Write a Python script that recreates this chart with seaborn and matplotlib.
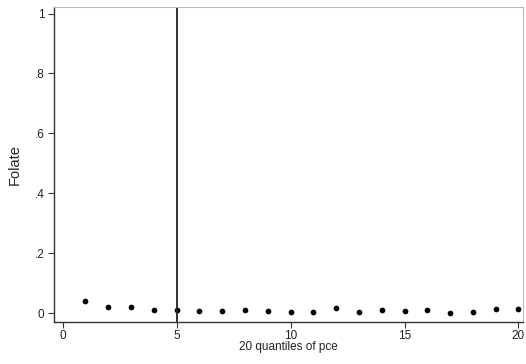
import matplotlib
matplotlib.use("Agg")
import matplotlib.pyplot as plt
import seaborn as sns
import pandas as pd

quantiles = list(range(1, 21))
folate = [0.039, 0.020, 0.020, 0.009, 0.011, 0.007, 0.007, 0.010, 0.008, 0.0045,
          0.0045, 0.018, 0.0045, 0.009, 0.006, 0.010, 0.001, 0.0045, 0.013, 0.012]
vline_x = 5
y_ticks = [0, 0.2, 0.4, 0.6, 0.8, 1.0]
y_ticklabels = ["0", ".2", ".4", ".6", ".8", "1"]
x_ticks = [0, 5, 10, 15, 20]

df = pd.DataFrame({"q": quantiles, "folate": folate})

sns.set_style("white")
plt.rcParams["font.family"] = ["Liberation Sans", "DejaVu Sans"]

fig = plt.figure(figsize=(5.26, 3.64), dpi=100)
ax = fig.add_axes([0.1027, 0.1154, 0.8916, 0.8654])

sns.scatterplot(data=df, x="q", y="folate", ax=ax, color="black", s=17,
                edgecolor="black", linewidth=0, legend=False)
ax.axvline(vline_x, color="#222222", linewidth=1.3)

ax.set_xlim(-0.38, 20.2)
ax.set_ylim(-0.03, 1.022)
ax.set_yticks(y_ticks)
ax.set_yticklabels(y_ticklabels)
ax.set_xticks(x_ticks)
ax.set_xticklabels([str(t) for t in x_ticks])

ax.tick_params(axis="both", which="major", bottom=True, left=True, direction="out",
               length=4, width=0.8, colors="#333333",
               labelsize=8.5, labelcolor="#222222", pad=2)
ax.tick_params(axis="y", pad=3)
for side in ["left", "bottom"]:
    ax.spines[side].set_color("#333333")
    ax.spines[side].set_linewidth(1.0)
for side in ["top", "right"]:
    ax.spines[side].set_color("#bbbbbb")
    ax.spines[side].set_linewidth(0.8)

ax.set_ylabel("Folate", fontsize=10.5, color="#222222", labelpad=9)
ax.set_xlabel("20 quantiles of pce", fontsize=8.5, color="#222222", labelpad=-1)

fig.savefig("out.png", dpi=100)
